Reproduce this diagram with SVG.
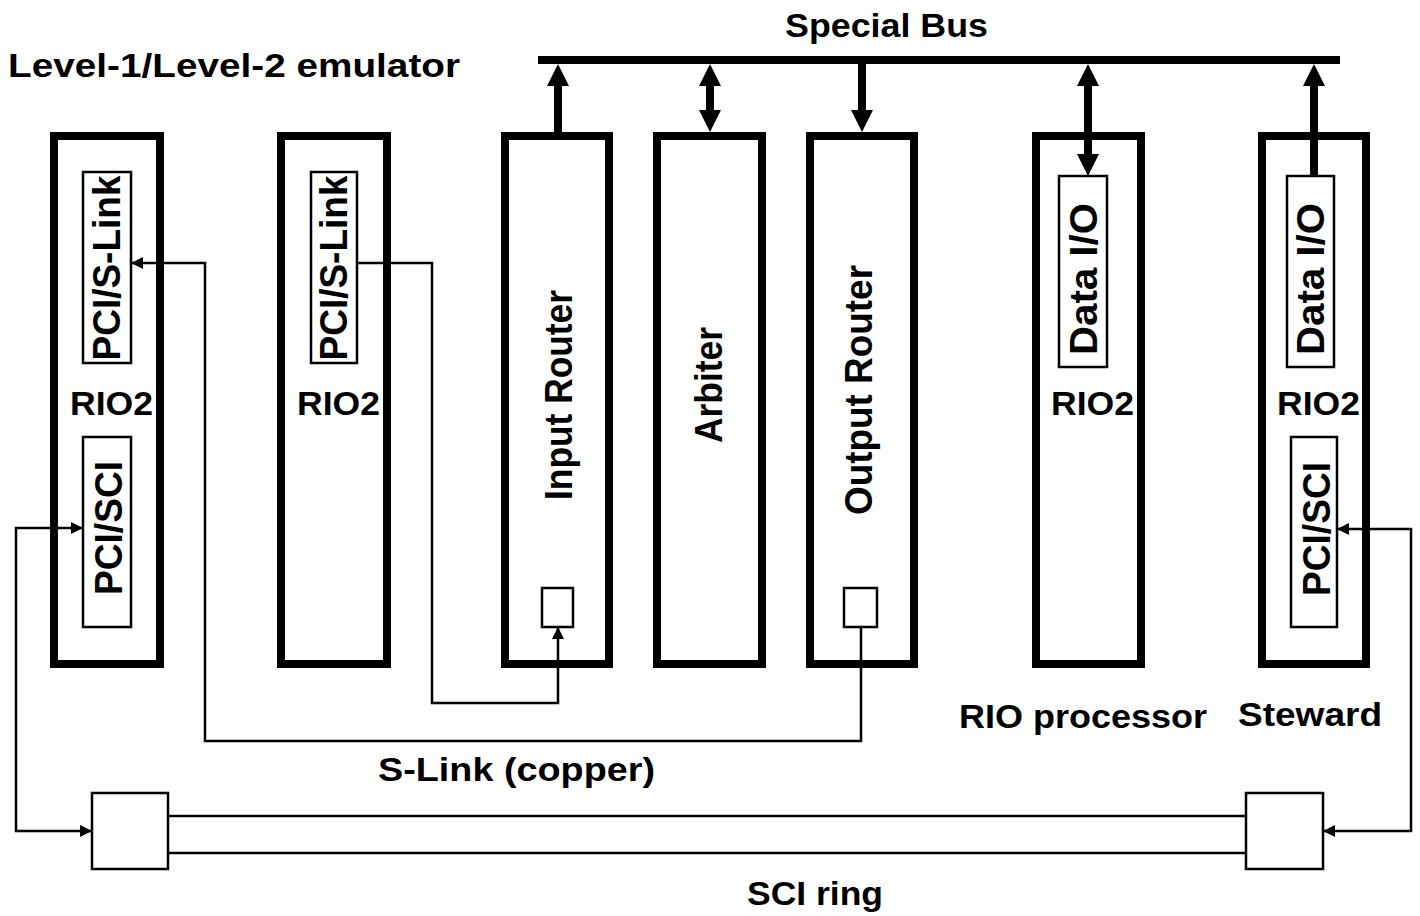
<svg xmlns="http://www.w3.org/2000/svg" width="1420" height="916" viewBox="0 0 1420 916">
<defs>
<style>
.board{fill:none;stroke:#000;stroke-width:8}
.box{fill:#fff;stroke:#000;stroke-width:2.5}
.thin{fill:none;stroke:#000;stroke-width:2.5}
.thick{fill:none;stroke:#000;stroke-width:8}
.t{font-family:"Liberation Sans",Arial,sans-serif;font-weight:bold;font-size:33px;fill:#000}
.r{font-family:"Liberation Sans",Arial,sans-serif;font-weight:bold;font-size:38px;fill:#000;text-anchor:middle}
</style>
<marker id="ah" viewBox="0 0 12 12" refX="12" refY="6" markerWidth="12" markerHeight="12" markerUnits="userSpaceOnUse" orient="auto-start-reverse">
<path d="M0,0 L12,6 L0,12 Z" fill="#000"/>
</marker>
<marker id="AH" viewBox="0 0 22 22" refX="0" refY="11" markerWidth="22" markerHeight="22" markerUnits="userSpaceOnUse" orient="auto-start-reverse">
<path d="M0,0 L22,11 L0,22 Z" fill="#000"/>
</marker>
</defs>
<rect width="1420" height="916" fill="#fff"/>

<g id="labels">
<text class="t" x="785" y="37" textLength="203" lengthAdjust="spacingAndGlyphs">Special Bus</text>
<text class="t" x="8" y="77" textLength="452" lengthAdjust="spacingAndGlyphs">Level-1/Level-2 emulator</text>
<text class="t" x="959" y="728" textLength="248" lengthAdjust="spacingAndGlyphs">RIO processor</text>
<text class="t" x="1238" y="726" textLength="144" lengthAdjust="spacingAndGlyphs">Steward</text>
<text class="t" x="378" y="781" textLength="277" lengthAdjust="spacingAndGlyphs">S-Link (copper)</text>
<text class="t" x="747" y="905" textLength="136" lengthAdjust="spacingAndGlyphs">SCI ring</text>
</g>

<g id="bus">
<rect x="538" y="56" width="802" height="8" fill="#000"/>
</g>

<g id="board-rio2-a">
<rect class="board" x="54" y="136" width="106" height="528"/>
<rect class="box" x="83" y="172" width="48" height="191"/>
<text class="r" transform="translate(120,268) rotate(-90)" textLength="185" lengthAdjust="spacingAndGlyphs">PCI/S-Link</text>
<text class="t" x="70" y="415" textLength="83" lengthAdjust="spacingAndGlyphs">RIO2</text>
<rect class="box" x="83" y="437" width="48" height="190"/>
<text class="r" transform="translate(122,528) rotate(-90)" textLength="134" lengthAdjust="spacingAndGlyphs">PCI/SCI</text>
</g>

<g id="board-rio2-b">
<rect class="board" x="281" y="136" width="106" height="528"/>
<rect class="box" x="311" y="172" width="46" height="191"/>
<text class="r" transform="translate(347,268) rotate(-90)" textLength="185" lengthAdjust="spacingAndGlyphs">PCI/S-Link</text>
<text class="t" x="297" y="415" textLength="83" lengthAdjust="spacingAndGlyphs">RIO2</text>
</g>

<g id="board-input-router">
<rect class="board" x="505" y="136" width="104" height="528"/>
<text class="r" transform="translate(572,395) rotate(-90)" textLength="210" lengthAdjust="spacingAndGlyphs">Input Router</text>
<rect class="box" x="542" y="588" width="31" height="39"/>
</g>

<g id="board-arbiter">
<rect class="board" x="657" y="136" width="105" height="528"/>
<text class="r" transform="translate(722,385) rotate(-90)" textLength="116" lengthAdjust="spacingAndGlyphs">Arbiter</text>
</g>

<g id="board-output-router">
<rect class="board" x="810" y="136" width="104" height="528"/>
<text class="r" transform="translate(872,390) rotate(-90)" textLength="250" lengthAdjust="spacingAndGlyphs">Output Router</text>
<rect class="box" x="844" y="588" width="33" height="39"/>
</g>

<g id="board-rio-processor">
<rect class="board" x="1036" y="136" width="105" height="528"/>
<rect class="box" x="1059" y="176" width="48" height="191"/>
<text class="r" transform="translate(1097,279) rotate(-90)" textLength="152" lengthAdjust="spacingAndGlyphs">Data I/O</text>
<text class="t" x="1051" y="415" textLength="83" lengthAdjust="spacingAndGlyphs">RIO2</text>
</g>

<g id="board-steward">
<rect class="board" x="1262" y="136" width="104" height="528"/>
<rect class="box" x="1287" y="176" width="47" height="191"/>
<text class="r" transform="translate(1324,279) rotate(-90)" textLength="152" lengthAdjust="spacingAndGlyphs">Data I/O</text>
<text class="t" x="1277" y="415" textLength="83" lengthAdjust="spacingAndGlyphs">RIO2</text>
<rect class="box" x="1291" y="437" width="46" height="190"/>
<text class="r" transform="translate(1330,529) rotate(-90)" textLength="134" lengthAdjust="spacingAndGlyphs">PCI/SCI</text>
</g>

<g id="sci-ring">
<rect class="box" x="92" y="793" width="76" height="76"/>
<rect class="box" x="1246" y="793" width="77" height="76"/>
<line class="thin" x1="168" y1="816" x2="1246" y2="816"/>
<line class="thin" x1="168" y1="853" x2="1246" y2="853"/>
</g>

<g id="connectors">
<line class="thick" x1="558" y1="132" x2="558" y2="86" marker-end="url(#AH)"/>
<line class="thick" x1="710" y1="86" x2="710" y2="110" marker-start="url(#AH)" marker-end="url(#AH)"/>
<line class="thick" x1="862" y1="64" x2="862" y2="110" marker-end="url(#AH)"/>
<line class="thick" x1="1088" y1="86" x2="1088" y2="154" marker-start="url(#AH)" marker-end="url(#AH)"/>
<line class="thick" x1="1314" y1="176" x2="1314" y2="86" marker-end="url(#AH)"/>
<polyline class="thin" points="357,263 432,263 432,703 558,703 558,627" marker-end="url(#ah)"/>
<polyline class="thin" points="861,627 861,741 205,741 205,263 131,263" marker-end="url(#ah)"/>
<polyline class="thin" points="83,528 16,528 16,831 92,831" marker-start="url(#ah)" marker-end="url(#ah)"/>
<polyline class="thin" points="1337,529 1411,529 1411,831 1323,831" marker-start="url(#ah)" marker-end="url(#ah)"/>
</g>
</svg>
